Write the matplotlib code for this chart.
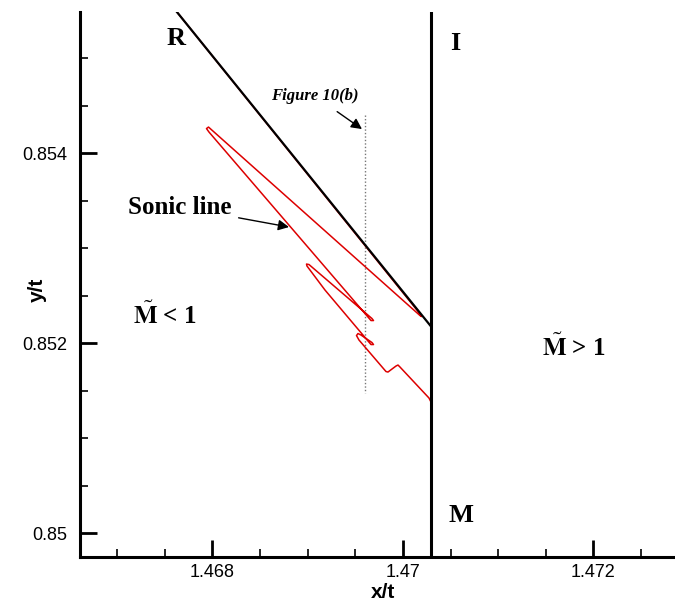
import matplotlib
matplotlib.use("Agg")
import matplotlib.pyplot as plt
from matplotlib.ticker import MultipleLocator, FormatStrFormatter

plt.rcParams['mathtext.fontset'] = 'stix'

# ---- data ----
sonic_x = [1.4702992, 1.4702730, 1.4699685, 1.4699475, 1.4699265, 1.4698425, 1.4698215,
           1.4695381, 1.4695118, 1.4695276, 1.4695591, 1.4696745, 1.4696903, 1.4696640,
           1.4691811, 1.4690236, 1.4689921, 1.4689869, 1.4690131, 1.4696745, 1.4696903,
           1.4696640, 1.4679633, 1.4679370, 1.4679580, 1.4701785, 1.4701942, 1.4701600,
           1.4676273]
sonic_y = [0.8513684, 0.8514211, 0.8517474, 0.8517684, 0.8517579, 0.8516947, 0.8517000,
           0.8520316, 0.8520789, 0.8521000, 0.8520842, 0.8520053, 0.8519842, 0.8519842,
           0.8525579, 0.8527684, 0.8528105, 0.8528316, 0.8528263, 0.8522579, 0.8522368,
           0.8522368, 0.8542211, 0.8542579, 0.8542737, 0.8522895, 0.8522789, 0.8523300,
           0.8554842]

reflected_x = [1.4702992, 1.4676273]
reflected_y = [0.8521684, 0.8554842]

incident_x = [1.4702992, 1.4702992]
incident_y = [0.8497474, 0.8554842]

probe_x = [1.4696010, 1.4696010]
probe_y = [0.8544000, 0.8514737]

xlim = (1.4666089, 1.4728557)
ylim = (0.8497474, 0.8554842)

# ---- figure ----
fig = plt.figure(figsize=(6.75, 6.04), dpi=100)
ax = fig.add_axes([0.1185, 0.0778, 0.8815, 0.9022])

ax.plot(probe_x, probe_y, color='#777777', lw=1.0, ls=(0, (1, 1.5)))
ax.plot(sonic_x, sonic_y, color='#dd0000', lw=1.1, solid_joinstyle='round')
ax.plot(reflected_x, reflected_y, color='black', lw=1.6)
ax.plot(incident_x, incident_y, color='black', lw=2.2)

ax.set_xlim(*xlim)
ax.set_ylim(*ylim)

for s in ['top', 'right']:
    ax.spines[s].set_visible(False)
for s in ['left', 'bottom']:
    ax.spines[s].set_linewidth(2.2)

ax.xaxis.set_major_locator(MultipleLocator(0.002))
ax.xaxis.set_minor_locator(MultipleLocator(0.0005))
ax.yaxis.set_major_locator(MultipleLocator(0.002))
ax.yaxis.set_minor_locator(MultipleLocator(0.0005))
ax.xaxis.set_major_formatter(FormatStrFormatter('%g'))
ax.yaxis.set_major_formatter(FormatStrFormatter('%g'))
ax.tick_params(which='major', direction='in', length=12, width=2.0, labelsize=13)
ax.tick_params(axis='y', which='major', pad=9)
ax.tick_params(axis='x', which='major', pad=5)
ax.tick_params(which='minor', direction='in', length=6, width=1.2)
for lab in ax.get_xticklabels() + ax.get_yticklabels():
    lab.set_family(['Liberation Sans', 'DejaVu Sans'])

ax.set_xlabel('x/t', fontsize=15, fontweight='bold', family='Liberation Sans')
ax.set_ylabel('y/t', fontsize=15, fontweight='bold', family='Liberation Sans')
ax.xaxis.set_label_coords(0.509, -0.047)
ax.yaxis.set_label_coords(-0.056, 0.49)

serif = ['Liberation Serif', 'DejaVu Serif']
ax.text(1.4676168, 0.8552105, 'R', fontsize=19, fontweight='bold', family=serif, ha='center', va='center')
ax.text(1.4705459, 0.8551579, 'I', fontsize=19, fontweight='bold', family=serif, ha='center', va='center')
ax.text(1.4706089, 0.8501895, 'M', fontsize=19, fontweight='bold', family=serif, ha='center', va='center')
ax.text(1.4675013, 0.8522000, r'$\tilde{\mathbf{M}}$ < 1', fontsize=18, fontweight='bold',
        family=serif, ha='center', va='baseline')
ax.text(1.4717953, 0.8518632, r'$\tilde{\mathbf{M}}$ > 1', fontsize=18, fontweight='bold',
        family=serif, ha='center', va='baseline')

ax.annotate('Sonic line', xy=(1.4688031, 0.8532211), xytext=(1.4676587, 0.8534316),
            fontsize=18, fontweight='bold', family=serif, ha='center', va='center',
            arrowprops=dict(arrowstyle='-|>', color='black', lw=1.0, mutation_scale=16,
                            shrinkA=3, shrinkB=0))
ax.annotate('Figure 10(b)', xy=(1.4695695, 0.8542526), xytext=(1.4690761, 0.8546000),
            fontsize=12, fontweight='bold', style='italic', family=serif,
            ha='center', va='center',
            arrowprops=dict(arrowstyle='-|>', color='black', lw=1.0, mutation_scale=16,
                            shrinkA=6, shrinkB=0))

fig.savefig('out.png', dpi=100)
